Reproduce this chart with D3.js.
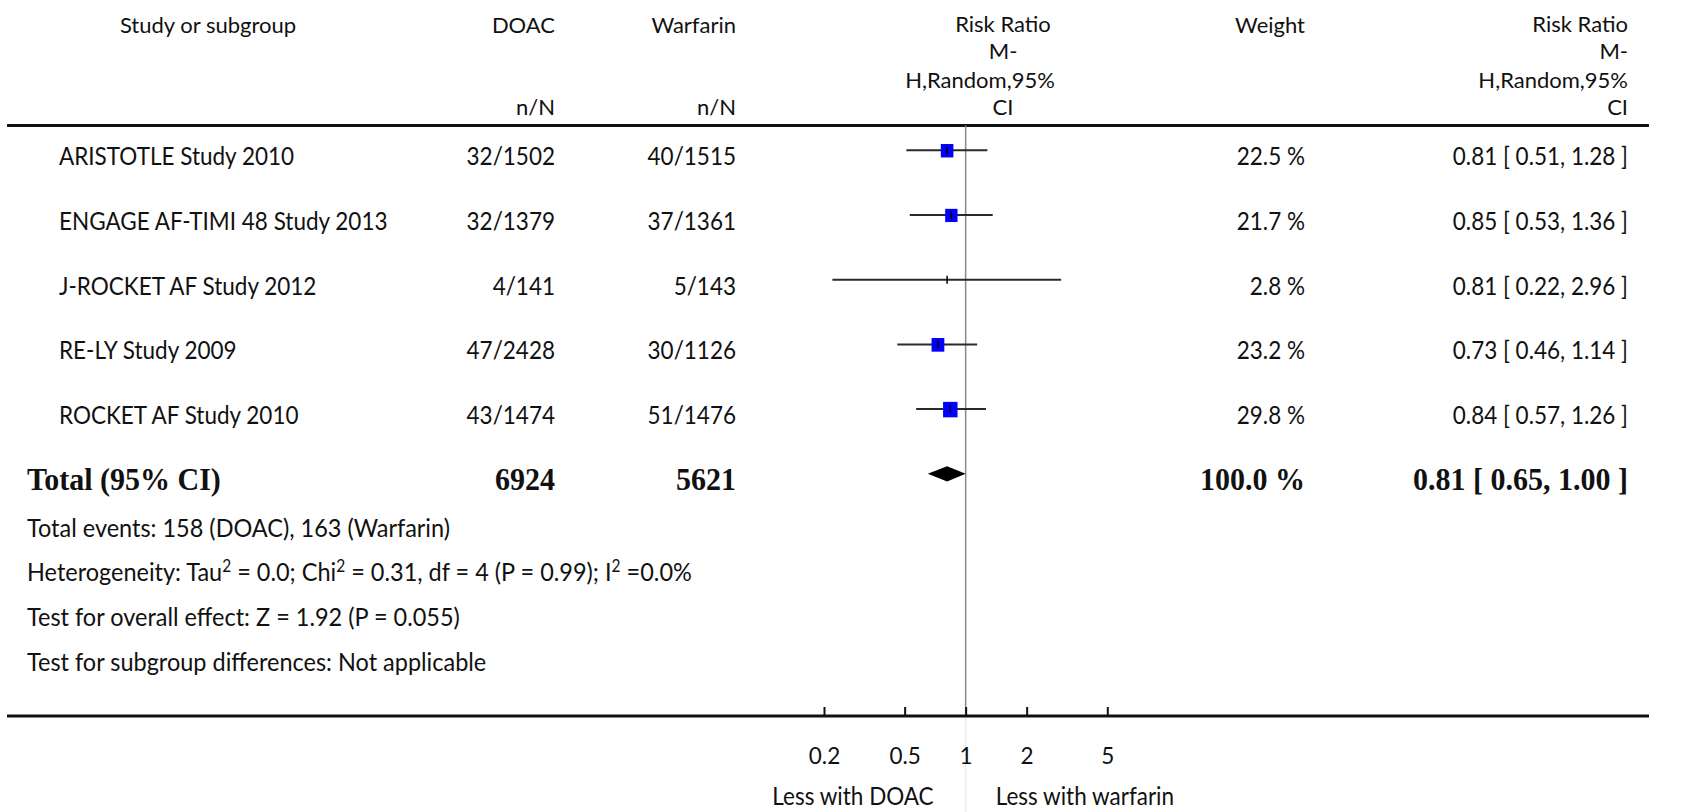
<!DOCTYPE html>
<html>
<head>
<meta charset="utf-8">
<script src="https://cdn.jsdelivr.net/npm/d3@7"></script>
<style>
  body { margin: 0; background: #fff; }
  svg { display: block; }
</style>
</head>
<body>
<svg id="chart" width="1684" height="812"></svg>
<script>
// ---- data ----
const studies = [
  "ARISTOTLE Study 2010",
  "ENGAGE AF-TIMI 48 Study 2013",
  "J-ROCKET AF Study 2012",
  "RE-LY Study 2009",
  "ROCKET AF Study 2010"
];
const doacEvents   = [32, 32, 4, 47, 43];
const doacTotal    = [1502, 1379, 141, 2428, 1474];
const warfEvents   = [40, 37, 5, 30, 51];
const warfTotal    = [1515, 1361, 143, 1126, 1476];
const weights      = [22.5, 21.7, 2.8, 23.2, 29.8];
const riskRatio    = [0.81, 0.85, 0.81, 0.73, 0.84];
const ciLower      = [0.51, 0.53, 0.22, 0.46, 0.57];
const ciUpper      = [1.28, 1.36, 2.96, 1.14, 1.26];
const pooledRR     = [0.81, 0.65, 1.00];   // estimate, lower, upper
const pooledWeight = 100.0;
const groupTotals  = [6924, 5621];         // DOAC, Warfarin
const axisTicks    = [0.2, 0.5, 1, 2, 5];
const sideLabels   = ["Less with DOAC", "Less with warfarin"];
const footnotes = [
  [["Total events: 158 (DOAC), 163 (Warfarin)"]],
  [["Heterogeneity: Tau"], ["2", "sup"], [" = 0.0; Chi"], ["2", "sup"], [" = 0.31, df = 4 (P = 0.99); I"], ["2", "sup"], [" =0.0%"]],
  [["Test for overall effect: Z = 1.92 (P = 0.055)"]],
  [["Test for subgroup differences: Not applicable"]]
];

// ---- layout ----
const W = 1684, H = 812;
const svg = d3.select("#chart");
const sans = "Lato, 'Open Sans', sans-serif";
const serif = "'Liberation Serif', 'Times New Roman', serif";
const fs = 22.5, sy = 1.1;
const ink = "#111";

const x = d3.scaleLog().domain([0.2, 5]).range([824, 1107.3]);
const y = d3.scaleLinear().domain([0, 5]).range([150.3, 473.8]);
const side = d3.scaleSqrt().domain([0, 30]).range([0, 14.5]);

const lineLeft = 7, lineRight = 1649;
const topRule = 125.5, axisY = 716;

const col = { study: 59, doac: 555, warf: 736, weight: 1305, ci: 1628 };

function label(g, px, py, txt, opts = {}) {
  return g.append("text")
    .attr("transform", `translate(${px},${py}) scale(1,${opts.sy || sy})`)
    .attr("text-anchor", opts.anchor || "start")
    .attr("font-family", opts.family || sans)
    .attr("font-size", opts.size || fs)
    .attr("font-weight", opts.weight || "normal")
    .attr("fill", ink)
    .text(txt);
}

// ---- header ----
const head = svg.append("g");
const hOpt = { sy: 1.0, size: 22 };
label(head, 208, 33, "Study or subgroup", { ...hOpt, anchor: "middle" });
label(head, col.doac, 33, "DOAC", { ...hOpt, anchor: "end" });
label(head, col.warf, 33, "Warfarin", { ...hOpt, anchor: "end" });
label(head, col.doac, 115, "n/N", { ...hOpt, anchor: "end" });
label(head, col.warf, 115, "n/N", { ...hOpt, anchor: "end" });
const rrHead = ["Risk Ratio", "M-", "H,Random,95%", "CI"];
const rrHeadY = [32, 59, 88, 115];
rrHead.forEach((s, i) => label(head, i === 2 ? 980 : 1003, rrHeadY[i], s, { ...hOpt, anchor: "middle" }));
label(head, col.weight, 33, "Weight", { ...hOpt, anchor: "end" });
rrHead.forEach((s, i) => label(head, col.ci, rrHeadY[i], s, { ...hOpt, anchor: "end" }));

// ---- rules ----
svg.append("line").attr("x1", lineLeft).attr("x2", lineRight)
  .attr("y1", topRule).attr("y2", topRule).attr("stroke", "#111").attr("stroke-width", 3);

// reference line at RR = 1
svg.append("line").attr("x1", x(1)).attr("x2", x(1))
  .attr("y1", topRule).attr("y2", axisY).attr("stroke", "#8a8a8a").attr("stroke-width", 1.5);
svg.append("line").attr("x1", x(1)).attr("x2", x(1))
  .attr("y1", axisY).attr("y2", H).attr("stroke", "#ececec").attr("stroke-width", 1.5);

// ---- study rows ----
const rows = svg.append("g");
studies.forEach((s, i) => {
  const cy = y(i), ty = cy + 15;
  label(rows, col.study, ty, s);
  label(rows, col.doac, ty, `${doacEvents[i]}/${doacTotal[i]}`, { anchor: "end" });
  label(rows, col.warf, ty, `${warfEvents[i]}/${warfTotal[i]}`, { anchor: "end" });
  label(rows, col.weight, ty, `${weights[i].toFixed(1)} %`, { anchor: "end" });
  label(rows, col.ci, ty,
    `${riskRatio[i].toFixed(2)} [ ${ciLower[i].toFixed(2)}, ${ciUpper[i].toFixed(2)} ]`, { anchor: "end" });

  rows.append("line")
    .attr("x1", x(ciLower[i])).attr("x2", x(ciUpper[i]))
    .attr("y1", cy).attr("y2", cy)
    .attr("stroke", "#2a2a2a").attr("stroke-width", 2);

  // weight box (very small weights show only the estimate tick)
  const s0 = side(weights[i]);
  if (s0 >= 5) {
    rows.append("rect")
      .attr("x", x(riskRatio[i]) - s0 / 2).attr("y", cy - s0 / 2)
      .attr("width", s0).attr("height", s0 * 1.07)
      .attr("fill", "#0000ff");
  }
  rows.append("line")
    .attr("x1", x(riskRatio[i])).attr("x2", x(riskRatio[i]))
    .attr("y1", cy - 4).attr("y2", cy + 4)
    .attr("stroke", "#000").attr("stroke-width", 1.5);
});

// ---- pooled row ----
const pool = svg.append("g");
const py = y(5), pty = py + 16;
const bold = { family: serif, size: 30, weight: "bold", sy: 1.05 };
label(pool, 27, pty, "Total (95% CI)", bold);
label(pool, col.doac, pty, String(groupTotals[0]), { ...bold, anchor: "end" });
label(pool, col.warf, pty, String(groupTotals[1]), { ...bold, anchor: "end" });
label(pool, col.weight, pty, `${pooledWeight.toFixed(1)} %`, { ...bold, anchor: "end" });
label(pool, col.ci, pty,
  `${pooledRR[0].toFixed(2)} [ ${pooledRR[1].toFixed(2)}, ${pooledRR[2].toFixed(2)} ]`, { ...bold, anchor: "end" });
const dh = 7.6;
pool.append("path")
  .attr("d", `M${x(pooledRR[1])},${py} L${x(pooledRR[0])},${py - dh} L${x(pooledRR[2])},${py} L${x(pooledRR[0])},${py + dh} Z`)
  .attr("fill", "#000");

// ---- footnotes ----
const foot = svg.append("g");
const footY = [537, 581, 626, 671];
const ffs = 23.5;
footnotes.forEach((parts, i) => {
  const t = foot.append("text")
    .attr("transform", `translate(27,${footY[i]}) scale(1,${sy})`)
    .attr("font-family", sans).attr("font-size", ffs).attr("fill", ink);
  let raised = false;
  parts.forEach(([s, kind]) => {
    if (kind === "sup") {
      t.append("tspan").attr("dy", raised ? 0 : -8).attr("font-size", ffs * 0.66).text(s);
      raised = true;
    } else {
      t.append("tspan").attr("dy", raised ? 8 : 0).text(s);
      raised = false;
    }
  });
});

// ---- axis ----
svg.append("line").attr("x1", lineLeft).attr("x2", lineRight)
  .attr("y1", axisY).attr("y2", axisY).attr("stroke", "#111").attr("stroke-width", 3);
const axis = svg.append("g").attr("transform", `translate(0,${axisY})`)
  .call(d3.axisBottom(x).tickValues(axisTicks).tickSize(-9).tickPadding(32).tickFormat(d => String(d)));
axis.select(".domain").remove();
axis.selectAll(".tick line").attr("stroke", "#111").attr("stroke-width", 2);
axis.selectAll(".tick text")
  .attr("font-family", sans).attr("font-size", fs).attr("fill", ink);

label(svg, x(1) - 32, 805, sideLabels[0], { anchor: "end" });
label(svg, x(1) + 30, 805, sideLabels[1], { anchor: "start" });
</script>
</body>
</html>
